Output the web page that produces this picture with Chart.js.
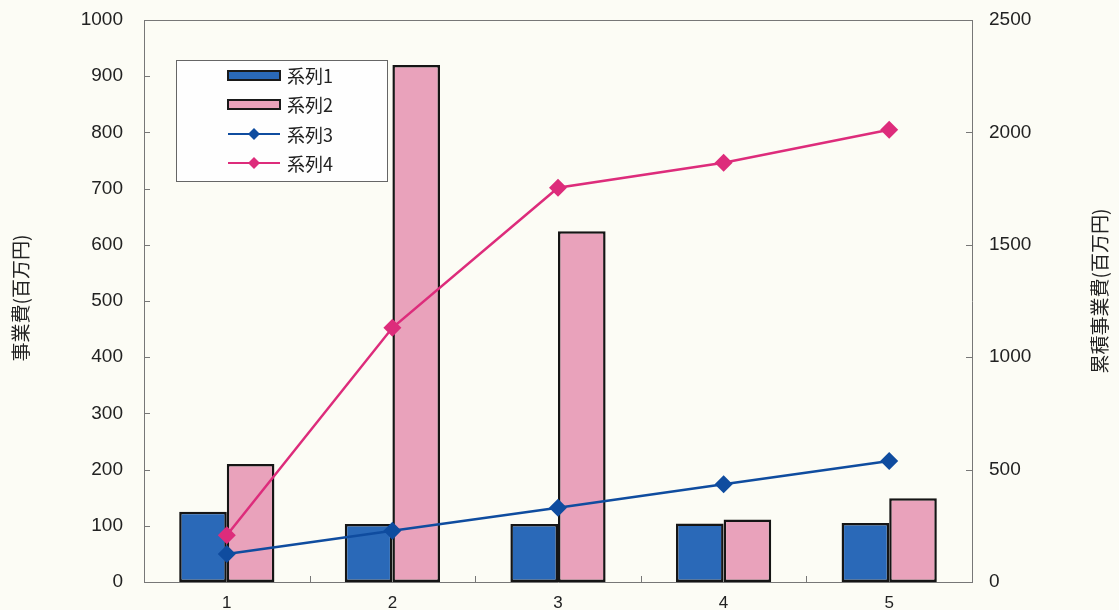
<!DOCTYPE html>
<html>
<head>
<meta charset="utf-8">
<script src="https://cdn.jsdelivr.net/npm/chart.js@4/dist/chart.umd.min.js"></script>
<style>
  html, body { margin: 0; padding: 0; background: #fcfcf5; }
  #wrap { width: 1119px; height: 610px; position: relative; }
</style>
</head>
<body>
<div id="wrap"><canvas id="c" width="1119" height="610"></canvas></div>
<script>
const categories = ['1', '2', '3', '4', '5'];
const series1 = [125, 103, 103, 104, 105];
const series2 = [210, 920, 624, 111, 149];
const series3 = [125, 228, 330, 435, 538];
const series4 = [208, 1131, 1754, 1865, 2012];
const seriesNames = ['系列1', '系列2', '系列3', '系列4'];
const leftAxisTitle = '事業費(百万円)';
const rightAxisTitle = '累積事業費(百万円)';
const leftMax = 1000, leftStep = 100;
const rightMax = 2500, rightStep = 500;

const tickFont = { family: '"Liberation Sans", Arial, sans-serif', size: 19 };
const cjkFont = '"Noto Sans CJK JP", sans-serif';

const frame = {
  id: 'frame',
  beforeDraw(chart) {
    const { ctx } = chart;
    ctx.save();
    ctx.fillStyle = '#fcfcf5';
    ctx.fillRect(0, 0, chart.width, chart.height);
    ctx.restore();
  },
  afterDatasetsDraw(chart) {
    const { ctx, chartArea: a, scales } = chart;
    ctx.save();
    ctx.strokeStyle = '#777';
    ctx.lineWidth = 1;
    ctx.beginPath();
    ctx.moveTo(a.left, a.top + 0.5);
    ctx.lineTo(a.right, a.top + 0.5);
    ctx.stroke();
    ctx.beginPath();
    scales.y.ticks.forEach(t => {
      const y = Math.round(scales.y.getPixelForValue(t.value)) + 0.5;
      ctx.moveTo(a.left, y); ctx.lineTo(a.left + 6, y);
    });
    scales.y2.ticks.forEach(t => {
      const y = Math.round(scales.y2.getPixelForValue(t.value)) + 0.5;
      ctx.moveTo(a.right, y); ctx.lineTo(a.right - 6, y);
    });
    const xs = scales.x;
    for (let i = 0; i < categories.length - 1; i++) {
      const x = Math.round((xs.getPixelForTick(i) + xs.getPixelForTick(i + 1)) / 2) + 0.5;
      ctx.moveTo(x, a.bottom); ctx.lineTo(x, a.bottom - 6);
    }
    ctx.stroke();
    ctx.restore();
  },
  afterDraw(chart) {
    const { ctx } = chart;
    const ds = chart.data.datasets;
    ctx.save();
    ctx.fillStyle = '#222';
    ctx.font = '19px ' + cjkFont;
    ctx.textAlign = 'center';
    ctx.textBaseline = 'middle';
    ctx.save();
    ctx.translate(21, 298); ctx.rotate(-Math.PI / 2);
    ctx.fillText(leftAxisTitle, 0, 0);
    ctx.restore();
    ctx.save();
    ctx.translate(1100, 291); ctx.rotate(-Math.PI / 2);
    ctx.fillText(rightAxisTitle, 0, 0);
    ctx.restore();

    const bx = 176, by = 60, bw = 211, bh = 121;
    ctx.fillStyle = '#fefefe';
    ctx.fillRect(bx, by, bw, bh);
    ctx.strokeStyle = '#666';
    ctx.lineWidth = 1;
    ctx.strokeRect(bx + 0.5, by + 0.5, bw, bh);
    const rows = [75, 104, 134, 163];
    const sx1 = 228, sx2 = 280;
    ds.forEach((d, i) => {
      const y = rows[i];
      if (d.type === 'bar') {
        ctx.fillStyle = d.backgroundColor;
        ctx.fillRect(sx1, y - 4, sx2 - sx1, 9);
        ctx.strokeStyle = '#1a1a1a';
        ctx.lineWidth = 2;
        ctx.strokeRect(sx1, y - 4, sx2 - sx1, 9);
      } else {
        ctx.strokeStyle = d.borderColor;
        ctx.lineWidth = 2;
        ctx.beginPath();
        ctx.moveTo(sx1, y); ctx.lineTo(sx2, y);
        ctx.stroke();
        ctx.fillStyle = d.borderColor;
        const r = 6, cx = (sx1 + sx2) / 2;
        ctx.beginPath();
        ctx.moveTo(cx, y - r); ctx.lineTo(cx + r, y); ctx.lineTo(cx, y + r); ctx.lineTo(cx - r, y);
        ctx.closePath(); ctx.fill();
      }
      ctx.fillStyle = '#222';
      ctx.font = '18px ' + cjkFont;
      ctx.textAlign = 'left';
      ctx.textBaseline = 'middle';
      ctx.fillText(d.label, 287, y + 1);
    });
    ctx.restore();
  }
};

new Chart(document.getElementById('c'), {
  data: {
    labels: categories,
    datasets: [
      { type: 'bar', label: seriesNames[0], data: series1, yAxisID: 'y',
        backgroundColor: '#2a69b8', borderColor: '#151515', borderWidth: 2.5,
        borderSkipped: false, categoryPercentage: 0.575, barPercentage: 1, order: 2 },
      { type: 'bar', label: seriesNames[1], data: series2, yAxisID: 'y',
        backgroundColor: '#e9a2bb', borderColor: '#151515', borderWidth: 2.5,
        borderSkipped: false, categoryPercentage: 0.575, barPercentage: 1, order: 2 },
      { type: 'line', label: seriesNames[2], data: series3, yAxisID: 'y2',
        borderColor: '#0f4c9f', backgroundColor: '#0f4c9f', borderWidth: 2.5,
        pointStyle: 'rectRot', pointRadius: 9, pointBorderWidth: 0, tension: 0, order: 1 },
      { type: 'line', label: seriesNames[3], data: series4, yAxisID: 'y2',
        borderColor: '#dd2c7b', backgroundColor: '#dd2c7b', borderWidth: 2.5,
        pointStyle: 'rectRot', pointRadius: 9, pointBorderWidth: 0, tension: 0, order: 0 }
    ]
  },
  options: {
    responsive: false,
    animation: false,
    events: [],
    layout: { padding: { top: 20, left: 0, right: 0, bottom: 0 } },
    plugins: { legend: { display: false }, tooltip: { enabled: false } },
    scales: {
      x: {
        offset: true,
        grid: { display: false, drawTicks: false },
        border: { display: true, color: '#777', width: 1 },
        ticks: { font: { family: tickFont.family, size: 17 }, color: '#222', padding: 11 },
        afterFit(s) { s.height = 28; }
      },
      y: {
        position: 'left', min: 0, max: leftMax,
        grid: { display: false, drawTicks: false },
        border: { display: true, color: '#777', width: 1 },
        ticks: { stepSize: leftStep, font: tickFont, color: '#222', padding: 21, callback: v => String(v) },
        afterFit(s) { s.width = 144; s.paddingTop = 0; s.paddingBottom = 0; }
      },
      y2: {
        position: 'right', min: 0, max: rightMax,
        grid: { display: false, drawTicks: false },
        border: { display: true, color: '#777', width: 1 },
        ticks: { stepSize: rightStep, font: tickFont, color: '#222', padding: 17, callback: v => String(v) },
        afterFit(s) { s.width = 147; s.paddingTop = 0; s.paddingBottom = 0; }
      }
    }
  },
  plugins: [frame]
});
</script>
</body>
</html>
